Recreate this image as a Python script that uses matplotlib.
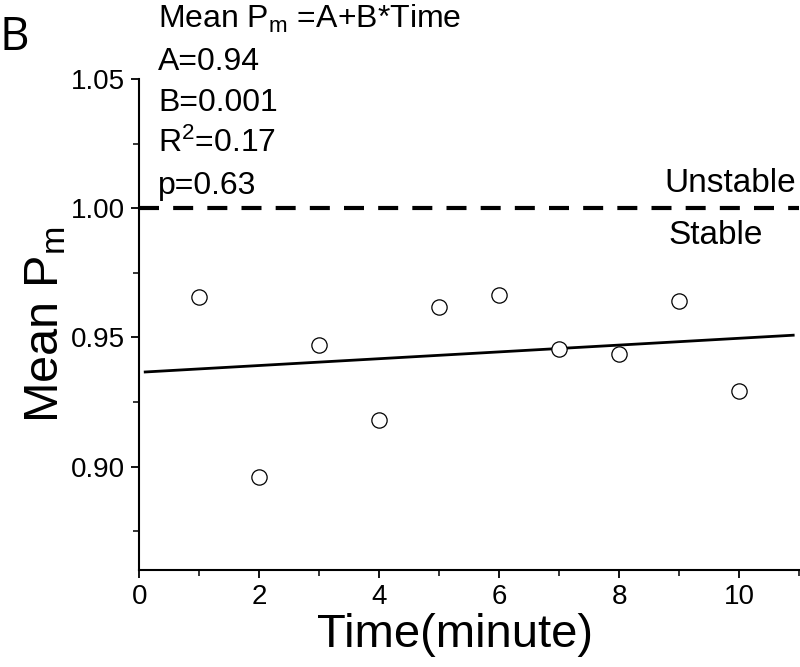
import numpy as np
import matplotlib
matplotlib.use('Agg')
import matplotlib.pyplot as plt

plt.rcParams['font.family'] = ['Liberation Sans', 'DejaVu Sans']
plt.rcParams['mathtext.fontset'] = 'custom'
plt.rcParams['mathtext.rm'] = 'Liberation Sans'
plt.rcParams['mathtext.it'] = 'Liberation Sans:italic'

# --- data ---
time_min = [1, 2, 3, 4, 5, 6, 7, 8, 9, 10]
mean_pm = [0.9657, 0.8958, 0.9472, 0.9182, 0.9616, 0.9666, 0.9455, 0.9437, 0.9640, 0.9291]
fit_range = [0.1, 10.9]
threshold = 1.00
stats_lines = ['Mean P$_\\mathrm{m}$ =A+B*Time', 'A=0.94', 'B=0.001',
               'R$^2$=0.17', 'p=0.63']
x_ticks = [0, 2, 4, 6, 8, 10]
y_ticks = [0.90, 0.95, 1.00, 1.05]

fig = plt.figure(figsize=(8, 6.67), dpi=100)
ax = fig.add_axes([0.174, 0.1454, 0.825, 0.7362])

# linear fit
slope, intercept = np.polyfit(time_min, mean_pm, 1)
fx = np.array(fit_range)
ax.plot(fx, intercept + slope * fx, color='black', lw=2)

ax.plot(time_min, mean_pm, 'o', mfc='white', mec='black', ms=11, mew=0.9, zorder=3)

ax.axhline(threshold, color='black', lw=3, linestyle=(0, (4.8, 3.4)))
ax.text(10.95, threshold + 0.0035, 'Unstable', ha='right', va='bottom', fontsize=24)
ax.text(9.6, threshold - 0.0045, 'Stable', ha='center', va='top', fontsize=24)

ax.set_xlim(0, 11)
ax.set_ylim(0.86, 1.05)
ax.set_xticks(x_ticks)
ax.set_xticks([1, 3, 5, 7, 9, 11], minor=True)
ax.set_yticks(y_ticks)
ax.set_yticks([0.875, 0.925, 0.975, 1.025], minor=True)
ax.set_yticklabels(['%.2f' % v for v in y_ticks])

for s in ['top', 'right']:
    ax.spines[s].set_visible(False)
for s in ['left', 'bottom']:
    ax.spines[s].set_linewidth(1.5)
ax.tick_params(which='major', direction='out', length=6, width=1.3, labelsize=20, pad=4)
ax.tick_params(which='minor', direction='out', length=4, width=1.1)

ax.set_xlabel('Time(minute)', fontsize=34)
ax.set_ylabel('Mean P$_\\mathrm{m}$', fontsize=35)
ax.xaxis.set_label_coords(0.479, -0.088)
ax.yaxis.set_label_coords(-0.107, 0.5)

# stats text at top-left
for i, line in enumerate(stats_lines):
    fig.text(158 / 800, 1 - (28 + 41.5 * i) / 667, line, fontsize=23, va='baseline', ha='left')

fig.text(0.0, 1 - 50 / 667, 'B', fontsize=33, family=['Open Sans', 'DejaVu Sans'], va='baseline')

fig.savefig('out.png', dpi=100)
